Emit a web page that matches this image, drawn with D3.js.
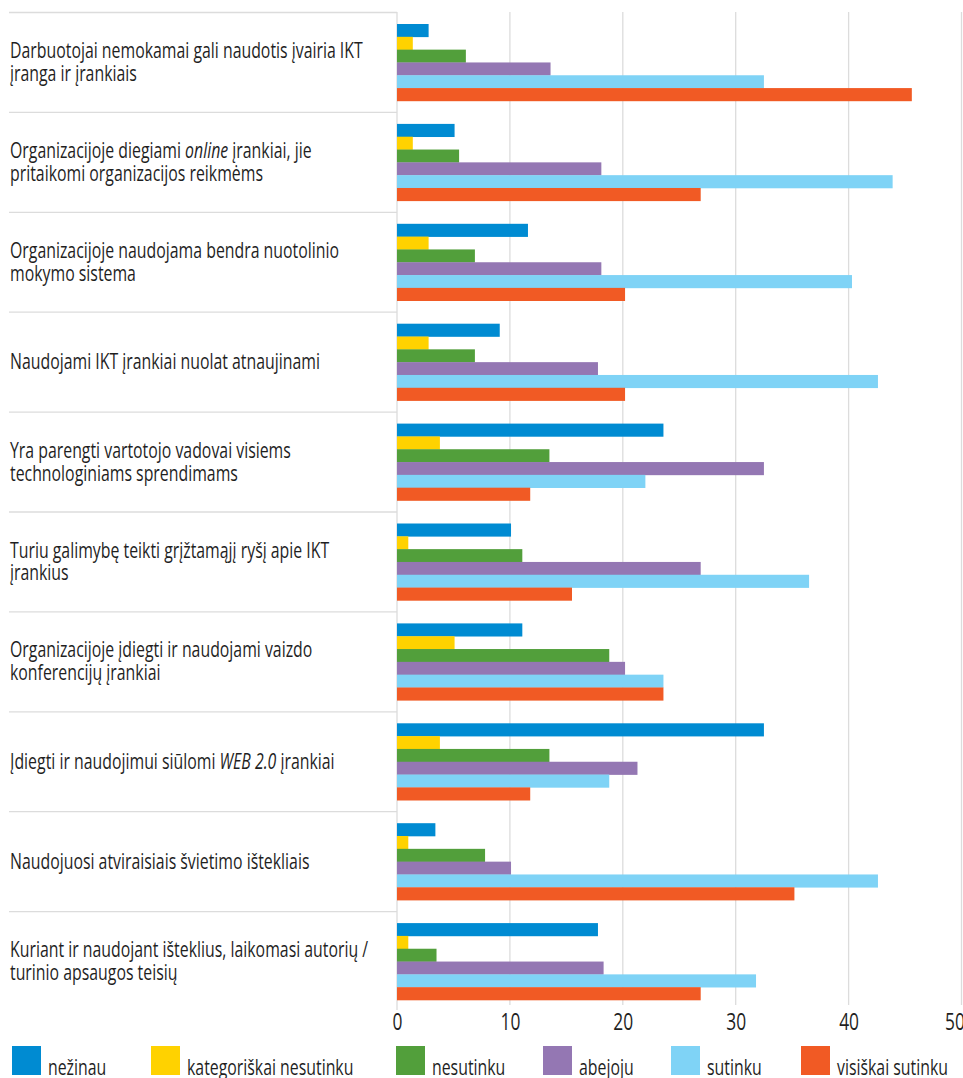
<!DOCTYPE html>
<html>
<head>
<meta charset="utf-8">
<script src="https://cdn.jsdelivr.net/npm/d3@7"></script>
<style>
  html, body { margin: 0; padding: 0; background: #fff; }
  svg { display: block; }
  text { font-family: "Open Sans", "Noto Sans", sans-serif; fill: #1f1f1f; }
</style>
</head>
<body>
<svg id="chart" width="963" height="1078"></svg>
<script>
// Statements (line breaks with \n, italic parts wrapped in *...*)
const categories = [
  "Darbuotojai nemokamai gali naudotis įvairia IKT\nįranga ir įrankiais",
  "Organizacijoje diegiami *online* įrankiai, jie\npritaikomi organizacijos reikmėms",
  "Organizacijoje naudojama bendra nuotolinio\nmokymo sistema",
  "Naudojami IKT įrankiai nuolat atnaujinami",
  "Yra parengti vartotojo vadovai visiems\ntechnologiniams sprendimams",
  "Turiu galimybę teikti grįžtamąjį ryšį apie IKT\nįrankius",
  "Organizacijoje įdiegti ir naudojami vaizdo\nkonferencijų įrankiai",
  "Įdiegti ir naudojimui siūlomi *WEB 2.0* įrankiai",
  "Naudojuosi atviraisiais švietimo ištekliais",
  "Kuriant ir naudojant išteklius, laikomasi autorių /\nturinio apsaugos teisių"
];

// Answer shares, %
const nezinau      = [2.8, 5.1, 11.6, 9.1, 23.6, 10.1, 11.1, 32.5, 3.4, 17.8];
const kategoriskai = [1.4, 1.4, 2.8, 2.8, 3.8, 1.0, 5.1, 3.8, 1.0, 1.0];
const nesutinku    = [6.1, 5.5, 6.9, 6.9, 13.5, 11.1, 18.8, 13.5, 7.8, 3.5];
const abejoju      = [13.6, 18.1, 18.1, 17.8, 32.5, 26.9, 20.2, 21.3, 10.1, 18.3];
const sutinku      = [32.5, 43.9, 40.3, 42.6, 22.0, 36.5, 23.6, 18.8, 42.6, 31.8];
const visiskai     = [45.6, 26.9, 20.2, 20.2, 11.8, 15.5, 23.6, 11.8, 35.2, 26.9];

const seriesNames = ["nežinau", "kategoriškai nesutinku", "nesutinku", "abejoju", "sutinku", "visiškai sutinku"];
const seriesValues = [nezinau, kategoriskai, nesutinku, abejoju, sutinku, visiskai];
const seriesColors = ["#008bd2", "#ffd200", "#529f3b", "#9477b3", "#7fd3f6", "#f15a24"];
const xTicks = [0, 10, 20, 30, 40, 50];

const svg = d3.select("#chart");

const plotLeft = 397, plotRight = 961.5, plotTop = 12, plotBottom = 1011;
const labelLeft = 9;

// Condensed look: measure a reference line once and squeeze all text horizontally
const labelSize = 21;
const probe = svg.append("text").style("font-size", labelSize + "px")
  .text("Darbuotojai nemokamai gali naudotis įvairia IKT");
const squeeze = 353 / probe.node().getComputedTextLength();
probe.remove();

const x = d3.scaleLinear().domain([0, 50]).range([plotLeft, plotRight]);
const y = d3.scaleBand().domain(d3.range(categories.length)).range([plotTop, plotBottom]);
const yInner = d3.scaleBand().domain(d3.range(seriesNames.length))
  .range([12, y.bandwidth() - 11]);

// vertical gridlines
svg.append("g").selectAll("line").data(xTicks).join("line")
  .attr("x1", d => x(d)).attr("x2", d => x(d))
  .attr("y1", plotTop).attr("y2", d => d === 0 ? plotBottom - 1 : plotBottom - 6)
  .attr("stroke", "#dcdcdc").attr("stroke-width", 1.3);

// row separators in the label column
svg.append("g").selectAll("line").data(d3.range(categories.length)).join("line")
  .attr("x1", labelLeft).attr("x2", plotLeft)
  .attr("y1", d => y(d) + 0.5).attr("y2", d => y(d) + 0.5)
  .attr("stroke", "#dcdcdc").attr("stroke-width", 1.3);

// bars
const rows = svg.append("g").selectAll("g").data(categories).join("g")
  .attr("transform", (d, i) => `translate(0,${y(i)})`);

rows.selectAll("rect")
  .data((d, i) => seriesValues.map((vals, s) => ({ s, v: vals[i] })))
  .join("rect")
  .attr("x", x(0))
  .attr("y", d => yInner(d.s))
  .attr("width", d => x(d.v) - x(0))
  .attr("height", yInner.bandwidth() + 0.3)
  .attr("fill", d => seriesColors[d.s]);

// category labels
const lineH = 23;
rows.each(function (d, i) {
  const lines = d.split("\n");
  const mid = y.bandwidth() / 2;
  const first = mid - (lines.length - 1) * lineH / 2;
  const g = d3.select(this).append("g")
    .attr("transform", `translate(${labelLeft + 1},0) scale(${squeeze},1)`);
  lines.forEach((line, k) => {
    const t = g.append("text")
      .attr("x", 0)
      .attr("y", first + k * lineH)
      .attr("dy", "0.36em")
      .style("font-size", labelSize + "px");
    line.split("*").forEach((part, p) => {
      if (!part) return;
      t.append("tspan").text(part).style("font-style", p % 2 ? "italic" : "normal");
    });
  });
});

// x axis tick labels (the last one nudged inward at the page edge)
const axis = svg.append("g")
  .attr("transform", `translate(0,${plotBottom})`)
  .call(d3.axisBottom(x).tickValues(xTicks).tickSize(0).tickPadding(0));
axis.select(".domain").remove();
axis.selectAll(".tick text")
  .attr("y", 11).attr("dy", "0.36em")
  .attr("transform", (d, i, n) => `translate(${i === n.length - 1 ? -7 : 0},0) scale(${squeeze},1)`)
  .style("font-size", "23px")
  .style("font-family", "\"Open Sans\", \"Noto Sans\", sans-serif")
  .attr("fill", "#1f1f1f");

// legend
const legendX = [12, 151, 396, 543, 671, 801];
const legend = svg.append("g").selectAll("g").data(seriesNames).join("g")
  .attr("transform", (d, i) => `translate(${legendX[i]},1046)`);
legend.append("rect").attr("width", 29).attr("height", 29)
  .attr("fill", (d, i) => seriesColors[i]);
legend.append("text")
  .attr("transform", `translate(36,29) scale(${squeeze},1)`)
  .style("font-size", labelSize + "px").text(d => d);
</script>
</body>
</html>
